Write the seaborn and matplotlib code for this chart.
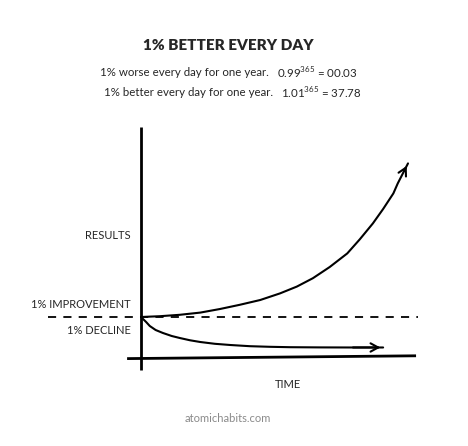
import seaborn as sns
import pandas as pd
import matplotlib.pyplot as plt

# curves (time in days, results in arbitrary units, 1.0 = start)
improve_days = [0, 26, 53, 81, 108, 135, 163, 190, 213, 235, 258, 282,
                299, 317, 331, 345, 351, 358, 365]
improve_vals = [1.0, 1.02, 1.055, 1.11, 1.20, 1.305, 1.425, 1.59, 1.76, 1.97,
                2.25, 2.59, 2.94, 3.34, 3.70, 4.09, 4.34, 4.59, 4.84]
decline_days = [0, 7, 12, 20, 30, 42, 53, 67, 81, 101, 122, 149, 176, 204,
                245, 286, 331]
decline_vals = [1.0, 0.875, 0.775, 0.675, 0.60, 0.525, 0.475, 0.418, 0.375,
                0.33, 0.30, 0.27, 0.255, 0.245, 0.24, 0.238, 0.238]

title = "1% BETTER EVERY DAY"
worse_text = "1% worse every day for one year."
worse_calc = "0.99$^{365}$ = 00.03"
better_text = "1% better every day for one year."
better_calc = "1.01$^{365}$ = 37.78"

W, H = 468, 446

sns.set_style("white")
plt.rcParams['font.family'] = ['Lato', 'DejaVu Sans']
plt.rcParams['mathtext.fontset'] = 'custom'
plt.rcParams['mathtext.rm'] = 'Lato'

df = pd.concat([
    pd.DataFrame({"day": improve_days, "value": improve_vals, "curve": "improve"}),
    pd.DataFrame({"day": decline_days, "value": decline_vals, "curve": "decline"}),
])

fig = plt.figure(figsize=(W / 100, H / 100), dpi=100)
ax = fig.add_axes([0, 0, 1, 1])
# pixel 141 -> day 0, 0.7315 px per day; pixel 357 -> 0, 40 px per unit
ax.set_xlim(-141 / 0.7315, (W - 141) / 0.7315)
ax.set_ylim(-(H - 357) / 40, 357 / 40)
ax.axis("off")

sns.lineplot(data=df, x="day", y="value", units="curve", estimator=None,
             color="black", lw=1.5, sort=False, ax=ax, legend=False)

# arrow heads
for days, vals in [(improve_days, improve_vals), (decline_days, decline_vals)]:
    ax.annotate("", xy=(days[-1], vals[-1]), xytext=(days[-2], vals[-2]),
                arrowprops=dict(arrowstyle="->,head_length=0.55,head_width=0.3",
                                color="black", lw=1.5))

# axes lines
ax.plot([0, 0], [-0.325, 5.75], color="black", lw=2, solid_capstyle="butt")
ax.plot([-19, 376], [-0.04, 0.03], color="black", lw=2, solid_capstyle="butt")
# baseline
ax.plot([-127, 379], [1.0, 1.0], color="black", lw=1.3, dashes=(4.5, 4))

# labels
ax.text(-13.7, 3.03, "RESULTS", ha="right", va="center", fontsize=8)
ax.text(-13.7, 1.325, "1% IMPROVEMENT", ha="right", va="center", fontsize=8)
ax.text(-13.7, 0.675, "1% DECLINE", ha="right", va="center", fontsize=8)
ax.text(201, -0.675, "TIME", ha="center", va="center", fontsize=8)

fig.text(228 / W, 1 - 46 / H, title, ha="center", va="center",
         fontsize=11, fontweight="heavy")
fig.text(100 / W, 1 - 73 / H, worse_text, ha="left", va="center", fontsize=8.3)
fig.text(277 / W, 1 - 73 / H, worse_calc, ha="left", va="center", fontsize=8.3)
fig.text(104 / W, 1 - 93 / H, better_text, ha="left", va="center", fontsize=8.3)
fig.text(281 / W, 1 - 93 / H, better_calc, ha="left", va="center", fontsize=8.3)
fig.text(228 / W, 1 - 418 / H, "atomichabits.com", ha="center", va="center",
         fontsize=8, color="#8a8a8a")

fig.savefig("out.png", dpi=100, facecolor="white")
